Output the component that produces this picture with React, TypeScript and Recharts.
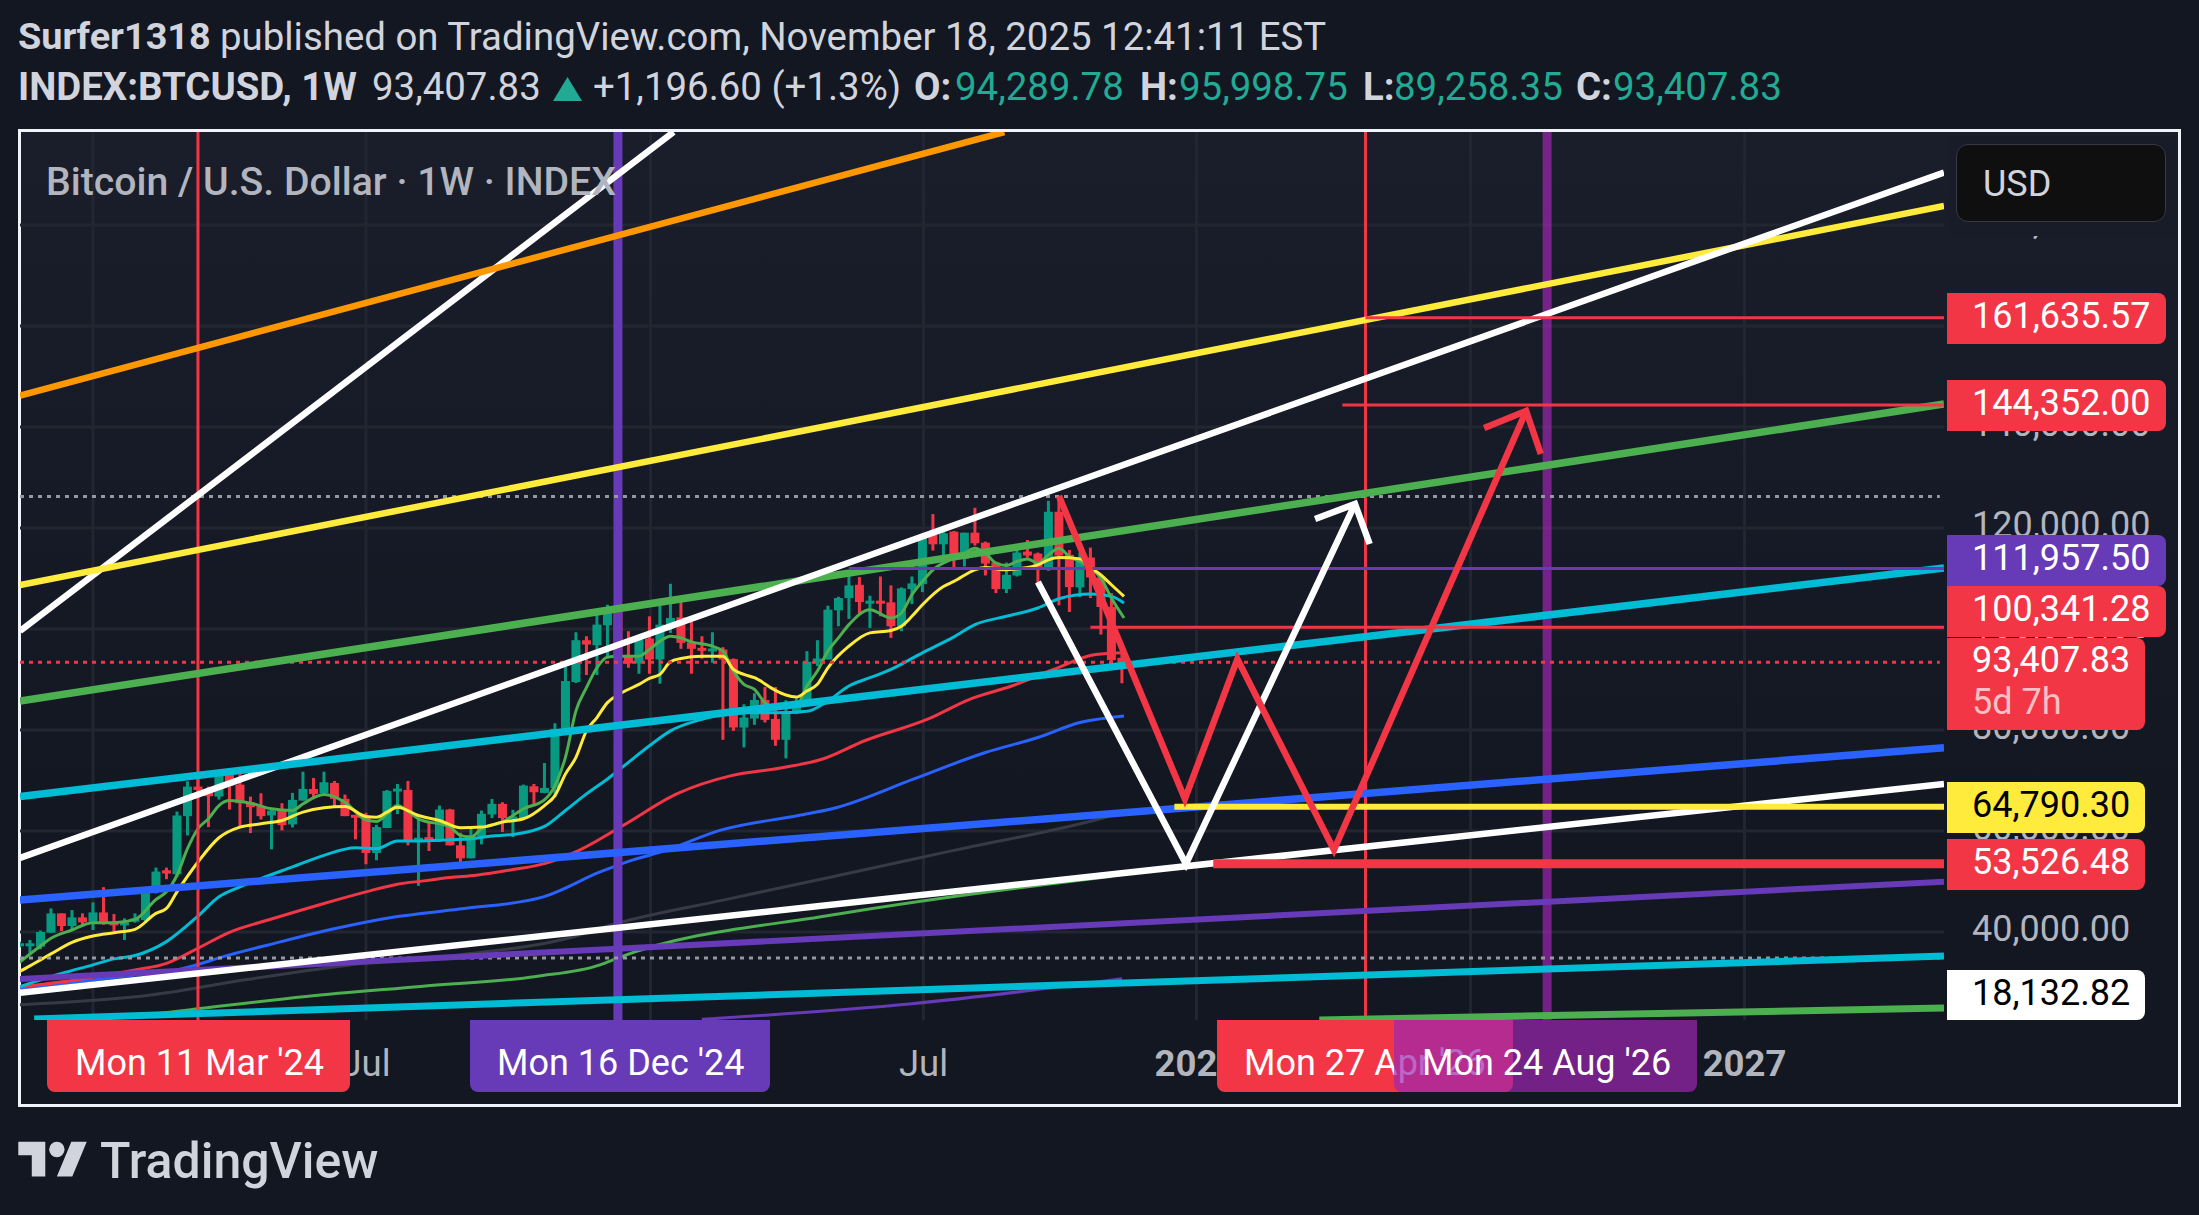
import {
  ComposedChart,
  Bar,
  Line,
  XAxis,
  YAxis,
  CartesianGrid,
} from "recharts";

// weeks are counted from Mon 1 Jan 2024
const firstWeek = -7;
const opens = [37240,37372,37109,39871,43682,41185,42894,42039,43879,41907,41710,42039,42368,47955,52227,51438,62941,68791,68199,66819,71157,69186,65702,64913,63072,64058,61298,66030,68331,67477,69515,66359,63205,62744,55646,60575,67937,68134,58143,58800,58143,64256,57157,54593,58932,63270,65374,62613,62547,68857,67543,68528,80033,89498,97780,96794,100738,104024,94822,93179,98108,93967,100541,102315,97320,96268,95742,95939,94033,80493,82268,85948,82202,78061,83254,84831,93376,93967,103696,106128,108758,105209,105603,105274,100541,107903,108889,118617,116777,119274,113885,119077,117105,113162,107903,110598,115331,114936,111715,123218,114673,108232,114148,110204,104354,94289.78];
const highs = [38095,38424,40264,44668,43682,44340,43682,45851,48875,43550,42696,43682,48415,52753,52753,63861,69843,71289,68791,71617,71157,72472,66819,67476,64584,65505,67542,71749,70500,71749,69909,67214,63205,63599,61232,68134,69317,69909,62613,61758,65045,64388,59655,60575,64059,66359,65702,64190,69186,69317,73458,81346,93178,99357,98569,103630,104813,107968,99555,98569,102512,105996,108954,106259,102315,98569,99357,96400,94165,85094,87263,88512,88512,85883,86277,95611,97780,104616,106391,111584,110270,106589,110401,108626,108232,110401,118946,122758,119932,119406,119077,124007,117303,113359,113162,116514,117631,115134,125387,126373,115659,115134,116119,110204,107114,95998.75];
const lows = [36977,35795,36583,39871,40199,40396,41185,40396,41447,40133,38424,41842,42170,47626,50453,50912,59129,67016,60772,66227,64256,60969,59589,62284,56368,60115,60706,66030,66359,67477,64848,62942,58340,53411,54199,60575,63336,57157,49137,56039,57814,57157,52688,54593,57354,62547,59786,58800,62416,65045,67477,66688,80033,89301,90878,90878,94165,92127,92324,91141,91141,89169,99226,96071,91141,94099,93310,78061,79835,76549,81019,81479,76878,74380,83122,84765,92653,93967,100542,101987,102974,100213,102513,98241,99556,104945,107312,115528,114345,111847,112373,116514,110598,107114,107114,110401,114148,108429,111518,104682,103367,106326,106129,98898,92983,89258.35];
const closes = [37767,37767,40001,43682,41185,42894,41907,43879,41579,41579,41907,42696,48415,51965,51570,63072,68791,68134,66885,71157,68988,65505,64716,62941,64058,61166,66162,68331,67345,69646,66359,62942,62744,55646,60772,67937,68397,57946,58669,58275,64256,57157,54593,59129,63402,65374,62547,62876,68989,67674,68528,80228,89695,97780,96925,100869,104024,94625,93179,97911,93967,100869,102184,97254,96071,95939,96136,93967,80493,82465,85948,82005,78061,83648,84897,93507,94165,103827,106128,108626,105340,105603,105209,100541,108035,109021,118617,116777,118946,113819,119077,116974,112964,107903,110730,115134,114542,111847,123218,114542,108298,114148,110204,104354,93836,93407.83];

type Knot = [number, number];

const yellowEma: Knot[] = [[-7,32170],[-6,33300],[-5,34480],[-4,35663],[-2,37964],[0,39213],[2,39871],[4,40528],[6,43682],[7,44668],[8,47955],[10,53870],[12,58669],[14,60772],[16,61429],[18,62087],[20,63730],[22,64584],[24,64847],[26,62876],[27,62745],[28,63730],[29,64716],[31,63073],[33,62087],[35,60641],[37,60772],[39,61758],[41,62416],[43,65045],[44,67017],[45,71289],[46,74577],[47,79836],[48,82465],[49,85423],[50,86934],[52,89038],[53,90221],[54,91010],[55,93507],[56,94165],[58,94625],[60,94625],[61,91995],[62,91010],[63,90352],[65,87855],[66,86934],[67,86540],[68,87723],[69,89038],[70,92324],[72,96597],[74,99226],[76,99687],[77,100542],[78,102513],[79,104814],[81,108429],[82,109415],[84,111715],[85,112176],[87,111715],[88,111912],[90,112702],[91,113688],[92,114148],[94,113885],[95,112176],[96,110730],[97,108758],[98.2,106457]];
const greenEma: Knot[] = [[-7,34000],[-5,37240],[-4,38753],[-2,40396],[0,41842],[2,41842],[4,42499],[6,46442],[7,47955],[8,51241],[9,56500],[10,60443],[11,62415],[12,65045],[13,66030],[15,65505],[17,64387],[19,64058],[20,65373],[22,67214],[24,65702],[26,62218],[27,61890],[28,63401],[29,65045],[30,63927],[31,62416],[34,60800],[35,59129],[36,58800],[37,60444],[39,61758],[41,64388],[43,66162],[44,68989],[45,74576],[46,83780],[47,88380],[48,92324],[49,94428],[50,94625],[52,94625],[53,95939],[54,97583],[55,98569],[56,98240],[57,97451],[59,96597],[60,95611],[61,91667],[62,89038],[63,88052],[64,85422],[65,84437],[67,84766],[68,88710],[69,91668],[70,95612],[71,98241],[72,100870],[74,103828],[76,102185],[77,103172],[78,106786],[79,109415],[80,111715],[82,114016],[83,115002],[84,115988],[85,115002],[86,113030],[87,112570],[88,113359],[89,113885],[90,113030],[91,114673],[92,115988],[93,114345],[94,113359],[95,112044],[96,110072],[97,106129],[98.2,102184]];
const cyanEma: Knot[] = [[-7,29150],[-3,31800],[0,33500],[2,34677],[4,35334],[7,38095],[10,43157],[12,46969],[14,48941],[16,50584],[19,52884],[22,55185],[25,56697],[27,56500],[29,58012],[31,58012],[34,58275],[36,58472],[38,58998],[40,59326],[43,60904],[45,64059],[47,67345],[49,70303],[51,73600],[53,76877],[55,79835],[58,82136],[60,83122],[62,83400],[65,83400],[68,83700],[70,85752],[72,88710],[74,90353],[76,91996],[79,95283],[82,98438],[84,100870],[87,102513],[90,104157],[92,105997],[95,106917],[97,106457],[98.2,105143]];
const redEma: Knot[] = [[-7,29100],[-2,30400],[4,32500],[7,33800],[8,34678],[10,36780],[13,39935],[17,42565],[22,45654],[26,47954],[29,49467],[31.5,50124],[34,50781],[36.5,51241],[40,52359],[43,53542],[46.3,56177],[50.5,61107],[55.6,67351],[60.8,70967],[65.5,72479],[69.5,74253],[73.5,77869],[79.5,82141],[83.5,86084],[87.5,88713],[91.5,91990],[95.5,94958],[98.2,95290]];
const blueEma: Knot[] = [[-7,28900],[-2,30000],[4,31500],[8,32500],[13,35465],[16.7,37436],[23.2,40730],[28.7,42958],[34.9,44536],[42.9,46966],[48.3,51891],[51,54000],[54.6,56170],[59.7,60114],[67.2,63072],[70.4,64390],[78.2,70310],[85,75555],[90,78514],[94,81471],[98.2,82792]];
const grayEma: Knot[] = [[-7,25600],[5.7,27576],[14.5,30534],[25.8,33828],[34.9,35465],[45.8,39073],[50,41775],[60,46310],[70,50727],[82,56170],[96,62481],[98,63660]];
const slowGreenEma: Knot[] = [[2.8,23040],[9.3,24620],[20.3,27250],[31.2,29225],[42.2,31200],[48.3,33490],[50,34870],[71,43550],[91.3,49560],[97,51000]];
const slowPurpleEma: Knot[] = [[58,22700],[78,25800],[98,30730]];

// hand drawn trend lines
const whiteSteep: Knot[] = [[-6.95,99604],[55.3,198416]];
const orangeLine: Knot[] = [[-6.95,146238],[86.8,198416]];
const yellowLine: Knot[] = [[-6.95,108713],[176.3,183763]];
const whiteTop: Knot[] = [[-6.95,54653],[176.3,190396]];
const greenLine: Knot[] = [[-6.95,85743],[176.3,144555]];
const cyanLine: Knot[] = [[-6.95,66832],[176.3,112079]];
const blueLine: Knot[] = [[-6.95,46337],[176.3,76495]];
const whiteLow: Knot[] = [[-6.95,27980],[176.3,69307]];
const purpleLine: Knot[] = [[-6.95,30693],[176.3,49960]];
const cyanLow: Knot[] = [[-5.6,22772],[176.3,35248]];
const greenLow: Knot[] = [[116.8,22574],[176.3,24951]];
const whiteArrow: Knot[] = [[90,109307],[104.1,53465],[120.2,124753]];
const whiteArrowHead: Knot[] = [[116.4,121782],[120.2,124753],[121.6,116832]];
const redArrow: Knot[] = [[92,126337],[104,66337],[109,94059],[118.2,56238],[136.5,143168]];
const redArrowHead: Knot[] = [[132.5,139802],[136.5,143168],[137.9,134654]];

const redLevels: Knot[][] = [
  [[121.2,161635.57],[176.3,161635.57]],
  [[119,144352],[176.3,144352]],
  [[95,100341.28],[176.3,100341.28]],
];
const purpleLevel: Knot[] = [[72,111957.5],[176.3,111957.5]];
const yellowLevel: Knot[] = [[103,64790.3],[176.3,64790.3]];
const redThickLevel: Knot[] = [[106.7,53526.48],[176.3,53526.48]];
const highDots: Knot[] = [[-6.95,126238],[175.9,126238]];
const lowDots: Knot[] = [[-6.95,34851],[175.9,34851]];
const lastDots: Knot[] = [[-6.95,93407.83],[175.9,93407.83]];

const redMarkers = [10, 121.2];
const purpleMarker = 50;
const violetMarker = 138.5;

const xTicks = [0, 26, 53.1, 79.1, 105.1, 131.2, 157.3];
const xLabels = ["2024", "Jul", "2025", "Jul", "2026", "Jul", "2027"];
const yTicks = [40000, 60000, 80000, 100000, 120000, 140000, 160000, 180000];

const yMin = 22574;
const yMax = 198416;

const candles = opens.map((open, i) => ({
  w: firstWeek + i,
  open,
  high: highs[i],
  low: lows[i],
  close: closes[i],
}));

const toPts = (knots: Knot[]) => knots.map(([w, v]) => ({ w, v }));

const RED = "#f23645";
const GREEN = "#089981";
const FONT = "Roboto, sans-serif";
const BODY = 9; // the bar width from recharts collapses on a number axis

function Candle(props: any) {
  const { x, y, width, height, payload } = props;
  const mid = x + width / 2;
  const k = height / (payload.high - payload.low);
  const top = y + (payload.high - Math.max(payload.open, payload.close)) * k;
  const body = Math.abs(payload.open - payload.close) * k;
  const color = payload.close >= payload.open ? GREEN : RED;
  return (
    <g>
      <rect x={mid - 1.5} y={y} width={3} height={height} fill={color} />
      <rect x={mid - BODY / 2} y={top} width={BODY} height={Math.max(body, 3)} fill={color} />
    </g>
  );
}

function seg(key: string, knots: Knot[], color: string, width: number, dash?: string, smooth?: boolean) {
  return (
    <Line
      key={key}
      data={toPts(knots)}
      dataKey="v"
      type={smooth ? "monotone" : "linear"}
      stroke={color}
      strokeWidth={width}
      strokeDasharray={dash}
      dot={false}
      activeDot={false}
      isAnimationActive={false}
    />
  );
}

function XTick({ x, y, payload }: any) {
  const label = xLabels[xTicks.indexOf(payload.value)];
  const isYear = label !== "Jul";
  return (
    <text x={x} y={y + 8} textAnchor="middle" fill="#b2b5be" fontFamily={FONT} fontSize={36.5} fontWeight={isYear ? 700 : 400}>
      {label}
    </text>
  );
}

function YTick({ y, payload }: any) {
  return (
    <text x={1972} y={y + 9} fill="#b2b5be" fontFamily={FONT} fontSize={36}>
      {payload.value.toLocaleString("en-US", { minimumFractionDigits: 2 })}
    </text>
  );
}

function Txt({ x, y, size = 38.4, color = "#d1d4dc", weight = 400, children }: any) {
  return (
    <span
      style={{
        position: "absolute",
        left: x,
        top: y,
        lineHeight: "1",
        fontSize: size,
        color,
        fontWeight: weight,
        whiteSpace: "nowrap",
        transform: "translateY(-50%)",
      }}
    >
      {children}
    </span>
  );
}

function PriceTag({ top, height, right = 2166, color, text, textColor = "#fff" }: any) {
  return (
    <div
      style={{
        position: "absolute",
        left: 1947,
        top,
        width: right - 1947,
        height,
        background: color,
        borderRadius: "0 8px 8px 0",
      }}
    >
      <span style={{ position: "absolute", left: 25, top: height / 2 - 22.5, fontSize: 36, lineHeight: "40px", color: textColor }}>
        {text}
      </span>
    </div>
  );
}

function TimeTag({ left, right, color, text, textLeft }: any) {
  return (
    <div
      style={{
        position: "absolute",
        left,
        top: 1020,
        width: right - left,
        height: 72,
        background: color,
        borderRadius: "0 0 8px 8px",
      }}
    >
      <span style={{ position: "absolute", left: textLeft - left, top: 23, fontSize: 36, lineHeight: "40px", color: "#fff", whiteSpace: "nowrap" }}>
        {text}
      </span>
    </div>
  );
}

export default function App() {
  return (
    <div style={{ position: "absolute", left: 0, top: 0, width: 2199, height: 1215, background: "#131722", overflow: "hidden", fontFamily: FONT }}>
      <Txt x={18} y={37} size={37.8} weight={700}>Surfer1318</Txt>
      <Txt x={220} y={37}>published on TradingView.com, November 18, 2025 12:41:11 EST</Txt>
      <Txt x={18} y={87} weight={700}>INDEX:BTCUSD, 1W</Txt>
      <Txt x={372} y={87}>93,407.83</Txt>
      <svg style={{ position: "absolute", left: 553, top: 77 }} width={29} height={24}>
        <polygon points="14.5,0 29,24 0,24" fill="#22ab94" />
      </svg>
      <Txt x={593} y={87}>+1,196.60 (+1.3%)</Txt>
      <Txt x={914} y={87} weight={700}>O:</Txt>
      <Txt x={955} y={87} color="#22ab94">94,289.78</Txt>
      <Txt x={1140} y={87} weight={700}>H:</Txt>
      <Txt x={1179} y={87} color="#22ab94">95,998.75</Txt>
      <Txt x={1363} y={87} weight={700}>L:</Txt>
      <Txt x={1394} y={87} color="#22ab94">89,258.35</Txt>
      <Txt x={1576} y={87} weight={700}>C:</Txt>
      <Txt x={1613} y={87} color="#22ab94">93,407.83</Txt>

      <div style={{ position: "absolute", left: 18, top: 129, width: 2163, height: 978, boxSizing: "border-box", border: "3px solid #f0f3fa", background: "linear-gradient(#1a1e2b, #131722 70%)" }} />

      <div style={{ position: "absolute", left: 0, top: 0 }}>
        <ComposedChart
          width={2199}
          height={1215}
          data={candles}
          margin={{ top: 132, right: 19, bottom: 110, left: 20 }}
        >
          <CartesianGrid stroke="#232631" strokeWidth={3} syncWithTicks />
          <XAxis
            dataKey="w"
            type="number"
            domain={[-6.95, 176.3]}
            ticks={xTicks}
            interval={0}
            height={85}
            axisLine={false}
            tickLine={false}
            tick={<XTick />}
            tickMargin={42}
            allowDataOverflow
          />
          <YAxis
            orientation="right"
            type="number"
            domain={[yMin, yMax]}
            ticks={yTicks}
            interval={0}
            width={236}
            axisLine={false}
            tickLine={false}
            tick={<YTick />}
            allowDataOverflow
          />
          {seg("slowPurple", slowPurpleEma, "#673ab7", 3, undefined, true)}
          {seg("slowGreen", slowGreenEma, "#4caf50", 3, undefined, true)}
          {seg("gray", grayEma, "#363a45", 3, undefined, true)}
          {seg("blueEma", blueEma, "#2962ff", 3, undefined, true)}
          {seg("redEma", redEma, RED, 3, undefined, true)}
          {seg("cyanEma", cyanEma, "#00bcd4", 3, undefined, true)}
          {seg("greenEma", greenEma, "#4caf50", 3, undefined, true)}
          {seg("yellowEma", yellowEma, "#ffeb3b", 3, undefined, true)}
          {redMarkers.map((w) => seg("red" + w, [[w, yMin], [w, yMax]], RED, 3))}
          {seg("purpleMarker", [[purpleMarker, yMin], [purpleMarker, yMax]], "#673ab7", 9)}
          {seg("violetMarker", [[violetMarker, yMin], [violetMarker, yMax]], "rgba(156,39,176,0.7)", 9)}
          <Bar dataKey={(d: any) => [d.low, d.high]} shape={<Candle />} isAnimationActive={false} />
          {seg("highDots", highDots, "#9598a1", 3, "4 5")}
          {seg("lowDots", lowDots, "#9598a1", 3, "4 5")}
          {seg("lastDots", lastDots, RED, 3, "4 5")}
          {seg("whiteSteep", whiteSteep, "#fff", 6.5)}
          {seg("orange", orangeLine, "#ff9800", 6.5)}
          {seg("yellow", yellowLine, "#ffeb3b", 6.5)}
          {seg("greenLine", greenLine, "#4caf50", 7.5)}
          {seg("whiteTop", whiteTop, "#fff", 6.5)}
          {seg("cyanLine", cyanLine, "#00bcd4", 7.5)}
          {seg("blueLine", blueLine, "#2962ff", 7.5)}
          {seg("purpleLine", purpleLine, "#673ab7", 6)}
          {seg("whiteLow", whiteLow, "#fff", 6.5)}
          {seg("cyanLow", cyanLow, "#00bcd4", 7)}
          {seg("greenLow", greenLow, "#4caf50", 7)}
          {redLevels.map((l, i) => seg("level" + i, l, RED, 3))}
          {seg("purpleLevel", purpleLevel, "#673ab7", 3)}
          {seg("yellowLevel", yellowLevel, "#ffeb3b", 6)}
          {seg("redThick", redThickLevel, RED, 9)}
          {seg("whiteArrow", whiteArrow, "#fff", 6.5)}
          {seg("whiteHead", whiteArrowHead, "#fff", 6.5)}
          {seg("redArrow", redArrow, RED, 6.5)}
          {seg("redHead", redArrowHead, RED, 6.5)}
        </ComposedChart>
      </div>

      <Txt x={46} y={183} size={39.2} weight={500} color="#b2b5be">Bitcoin / U.S. Dollar · 1W · INDEX</Txt>

      <div style={{ position: "absolute", left: 1948, top: 136, width: 228, height: 99.5, background: "#181c28" }} />
      <div style={{ position: "absolute", left: 1956, top: 144, width: 210, height: 78, boxSizing: "border-box", background: "#0f0f0f", border: "1px solid #363a45", borderRadius: 12 }}>
        <span style={{ position: "absolute", left: 26, top: 19, fontSize: 36, lineHeight: "40px", color: "#d1d4dc" }}>USD</span>
      </div>
      <PriceTag top={293} height={51} color={RED} text="161,635.57" />
      <PriceTag top={380} height={51} color={RED} text="144,352.00" />
      <PriceTag top={535} height={51} color="#673ab7" text="111,957.50" />
      <PriceTag top={586} height={51} color={RED} text="100,341.28" />
      <div style={{ position: "absolute", left: 1947, top: 638, width: 198, height: 92, background: RED, borderRadius: "0 8px 8px 0" }}>
        <span style={{ position: "absolute", left: 25, top: 2, fontSize: 36, lineHeight: "40px", color: "#fff" }}>93,407.83</span>
        <span style={{ position: "absolute", left: 25, top: 44, fontSize: 36, lineHeight: "40px", color: "rgba(255,255,255,0.7)" }}>5d 7h</span>
      </div>
      <PriceTag top={782} height={51} right={2145} color="#ffeb3b" textColor="#000" text="64,790.30" />
      <PriceTag top={839} height={51} right={2145} color={RED} text="53,526.48" />
      <PriceTag top={970} height={50} right={2145} color="#fff" textColor="#000" text="18,132.82" />

      <TimeTag left={47} right={350} color={RED} text="Mon 11 Mar '24" textLeft={75} />
      <TimeTag left={470} right={770} color="#673ab7" text="Mon 16 Dec '24" textLeft={497} />
      <TimeTag left={1217} right={1513} color={RED} text="Mon 27 Apr '26" textLeft={1244} />
      <TimeTag left={1394} right={1697} color="rgba(156,39,176,0.7)" text="Mon 24 Aug '26" textLeft={1422} />

      <svg style={{ position: "absolute", left: 18, top: 1134 }} width={70} height={54} viewBox="0 0 36 28">
        <path d="M14 22H7V11H0V4h14v18zM28 22h-8l7.5-18h8L28 22z" fill="#d1d4dc" />
        <circle cx="20" cy="8" r="4" fill="#d1d4dc" />
      </svg>
      <Txt x={100} y={1161} size={50} weight={500}>TradingView</Txt>
    </div>
  );
}
